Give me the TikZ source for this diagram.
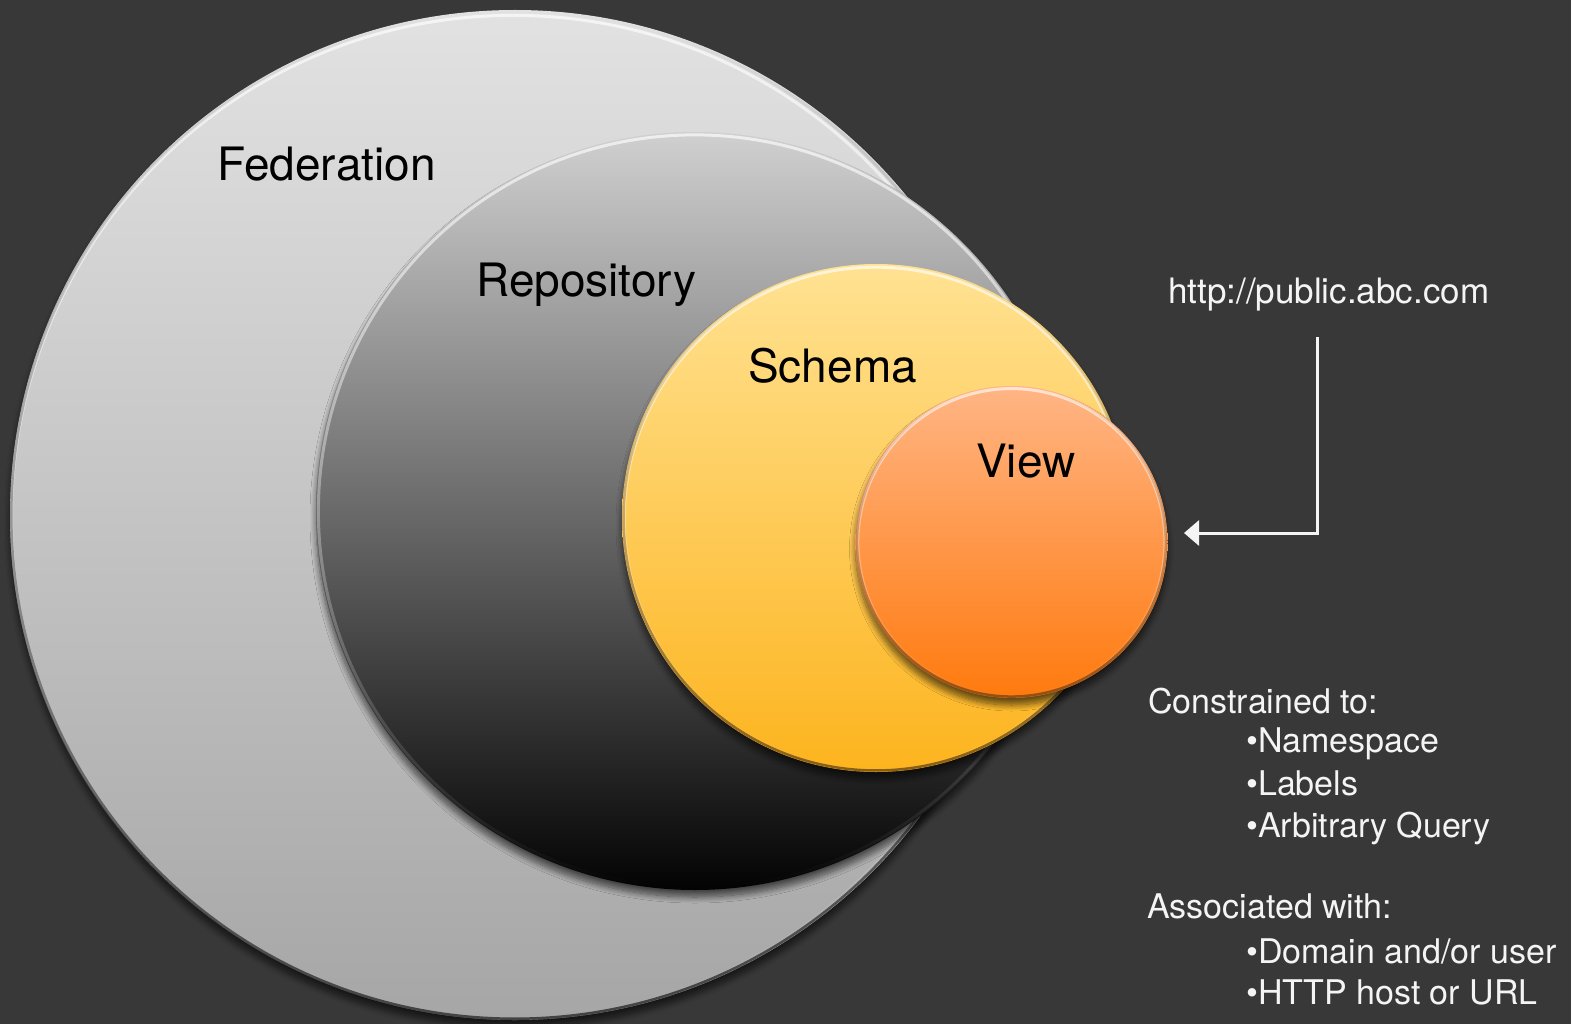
\documentclass[tikz,border=0pt]{standalone}
\usepackage{fontspec}
\setmainfont{TeX Gyre Heros}
\usetikzlibrary{arrows.meta,shadows.blur,fadings}
\definecolor{bg}{HTML}{383838}
\definecolor{fedtop}{HTML}{E2E2E2}
\definecolor{fedbot}{HTML}{A6A6A6}
\definecolor{repotop}{HTML}{D0D0D0}
\definecolor{repobot}{HTML}{030303}
\definecolor{schtop}{HTML}{FFE292}
\definecolor{schbot}{HTML}{FDB41E}
\definecolor{viewtop}{HTML}{FFB585}
\definecolor{viewbot}{HTML}{FF7A0E}
\definecolor{lighttext}{HTML}{F4F4F4}
\tikzfading[name=rimtop, top color=transparent!35, middle color=transparent!100, bottom color=transparent!100]
\tikzfading[name=rimbot, top color=transparent!100, middle color=transparent!100, bottom color=transparent!40]
\tikzset{
  disc/.style={circle, inner sep=0pt, draw=none,
    blur shadow={shadow xshift=0pt, shadow yshift=-7pt, shadow blur radius=6pt, shadow blur steps=10, shadow opacity=60}},
  rimlight/.style={white, line width=3pt, path fading=rimtop},
  rimdark/.style={black, line width=2.5pt, path fading=rimbot},
  lbl/.style={anchor=base west, inner sep=0pt, text=black, font=\fontsize{46}{55}\selectfont},
  note/.style={anchor=base west, inner sep=0pt, text=lighttext, font=\fontsize{34}{40}\selectfont},
  pointer/.style={lighttext, line width=3pt, -{Triangle[length=15pt,width=25pt]}}
}
\begin{document}
\begin{tikzpicture}[x=1pt,y=-1pt]
  % canvas
  \fill[bg] (0,0) rectangle (1571,1024);
  \useasboundingbox (0,0) rectangle (1571,1024);

  % nested circles, outermost first
  \node[disc, minimum size=1010pt, top color=fedtop, bottom color=fedbot] (fed) at (515,515) {};
  \draw[rimlight] (fed.center) circle[radius=502.5];
  \draw[rimdark] (fed.center) circle[radius=503.5];

  \node[disc, minimum size=758pt, top color=repotop, bottom color=repobot] (repo) at (695,511) {};
  \draw[rimlight] (repo.center) circle[radius=376.5];

  \node[disc, minimum size=508pt, top color=schtop, bottom color=schbot] (schema) at (876,518) {};
  \draw[rimlight] (schema.center) circle[radius=251.5];
  \draw[rimdark, black!70!brown] (schema.center) circle[radius=252.5];

  \node[disc, minimum size=312pt, top color=viewtop, bottom color=viewbot] (view) at (1011.5,542) {};
  \draw[rimlight] (view.center) circle[radius=153.5];
  \draw[rimdark, black!60!brown] (view.center) circle[radius=154.5];

  % circle labels
  \node[lbl] (fedlbl)  at (217,181) {Federation};
  \node[lbl] (repolbl) at (476,297) {Repository};
  \node[lbl] (schlbl)  at (748,382) {Schema};
  \node[lbl] (viewlbl) at (976,477) {View};

  % URL and its pointer into the view
  \node[note, font=\fontsize{35}{40}\selectfont] (url) at (1168,303) {http://public.abc.com};
  \coordinate (ptop) at (1317,337);
  \coordinate (pcorner) at (1317,533);
  \coordinate (ptip) at (1184,533);
  \draw[pointer] (ptop) -- (pcorner) -- (ptip);

  % notes
  \node[note] (con)  at (1148,713) {Constrained to:};
  \node[note] (ns)   at (1246,752) {•Namespace};
  \node[note] (lab)  at (1246,795) {•Labels};
  \node[note] (arb)  at (1246,837) {•Arbitrary Query};
  \node[note] (assoc) at (1147,918) {Associated with:};
  \node[note] (dom)  at (1246,963) {•Domain and/or user};
  \node[note] (http) at (1246,1004) {•HTTP host or URL};
\end{tikzpicture}
\end{document}
